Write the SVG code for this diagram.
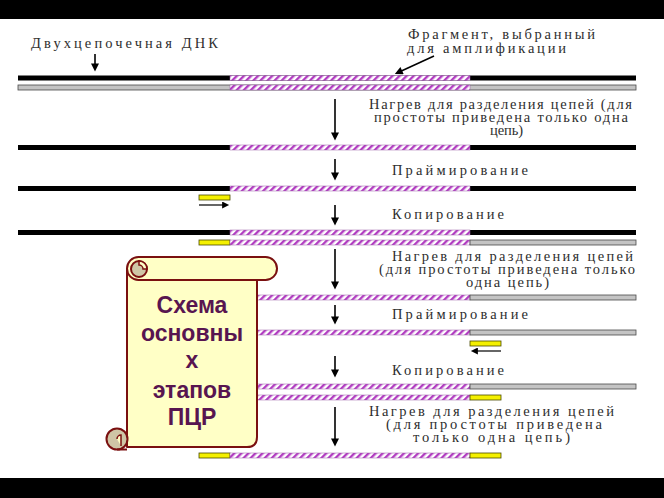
<svg xmlns="http://www.w3.org/2000/svg" width="664" height="498" viewBox="0 0 664 498">
<defs>
<style>
.t{font-family:"Liberation Serif","Times New Roman",serif;font-size:14.5px;fill:#2e2e2e;}
.s{font-family:"Liberation Sans",Arial,sans-serif;font-size:23px;font-weight:bold;fill:#581550;text-anchor:middle;}
.blk{fill:#000;}
.gry{fill:#c4c4c4;stroke:#4a4a4a;stroke-width:0.8;}
.yel{fill:#f4f000;stroke:#4a4a00;stroke-width:0.8;}
.hat{fill:url(#hatch);stroke:#9a60a8;stroke-width:0.5;}
.arr{stroke:#000;stroke-width:1.6;fill:none;marker-end:url(#ah);}
.arrs{stroke:#000;stroke-width:1.2;fill:none;marker-end:url(#ahs);}
.scr{fill:#ffffc6;stroke:#7a1010;stroke-width:2;stroke-linejoin:round;}
.curl{fill:#cfc6a6;stroke:#7a1010;stroke-width:2;}
</style>
<pattern id="hatch" width="5" height="5" patternUnits="userSpaceOnUse" patternTransform="rotate(45)">
<rect width="5" height="5" fill="#fff"/>
<rect width="2.4" height="5" fill="#b23cc2"/>
</pattern>
<marker id="ah" viewBox="0 0 10 10" refX="7" refY="5" markerWidth="9" markerHeight="8" markerUnits="userSpaceOnUse" orient="auto">
<path d="M0,0 L10,5 L0,10 Z" fill="#000"/>
</marker>
<marker id="ahs" viewBox="0 0 10 10" refX="7" refY="5" markerWidth="9" markerHeight="7" markerUnits="userSpaceOnUse" orient="auto">
<path d="M0,0 L10,5 L0,10 Z" fill="#000"/>
</marker>
</defs>
<rect width="664" height="498" fill="#fff"/>
<rect x="0" y="0" width="664" height="19" fill="#000"/>
<rect x="0" y="478" width="664" height="20" fill="#000"/>

<g id="labels">
<text class="t" x="31" y="48" textLength="187" lengthAdjust="spacing">Двухцепочечная ДНК</text>
<text class="t" x="408" y="39" textLength="187" lengthAdjust="spacing">Фрагмент, выбранный</text>
<text class="t" x="407" y="53" textLength="159" lengthAdjust="spacing">для амплификации</text>
<text class="t" x="369" y="109" textLength="263" lengthAdjust="spacing">Нагрев для разделения цепей (для</text>
<text class="t" x="374" y="122" textLength="254" lengthAdjust="spacing">простоты приведена только одна</text>
<text class="t" x="490" y="135" textLength="33" lengthAdjust="spacing">цепь)</text>
<text class="t" x="392" y="175" textLength="136" lengthAdjust="spacing">Праймирование</text>
<text class="t" x="392" y="219" textLength="112" lengthAdjust="spacing">Копирование</text>
<text class="t" x="392" y="261" textLength="241" lengthAdjust="spacing">Нагрев для разделения цепей</text>
<text class="t" x="379" y="274" textLength="256" lengthAdjust="spacing">(для простоты приведена только</text>
<text class="t" x="466" y="287" textLength="83" lengthAdjust="spacing">одна цепь)</text>
<text class="t" x="392" y="319" textLength="136" lengthAdjust="spacing">Праймирование</text>
<text class="t" x="392" y="375" textLength="112" lengthAdjust="spacing">Копирование</text>
<text class="t" x="369" y="416" textLength="245" lengthAdjust="spacing">Нагрев для разделения цепей</text>
<text class="t" x="386" y="429" textLength="216" lengthAdjust="spacing">(для простоты приведена</text>
<text class="t" x="413" y="442" textLength="157" lengthAdjust="spacing">только одна цепь)</text>
</g>

<g id="strand1">
<rect class="blk" x="18" y="75.5" width="618" height="5"/>
<rect class="hat" x="230" y="75.5" width="240" height="5"/>
</g>
<g id="strand2">
<rect class="gry" x="18" y="85" width="618" height="5"/>
<rect class="hat" x="230" y="85" width="240" height="5"/>
</g>
<g id="strand3">
<rect class="blk" x="18" y="145" width="618" height="5"/>
<rect class="hat" x="230" y="145" width="240" height="5"/>
</g>
<g id="strand4">
<rect class="blk" x="18" y="186" width="618" height="5"/>
<rect class="hat" x="230" y="186" width="240" height="5"/>
</g>
<g id="primer1">
<rect class="yel" x="199" y="195" width="31" height="5"/>
</g>
<g id="strand5">
<rect class="blk" x="18" y="230" width="618" height="5"/>
<rect class="hat" x="230" y="230" width="240" height="5"/>
</g>
<g id="strand6">
<rect class="yel" x="199" y="240" width="31" height="5"/>
<rect class="hat" x="230" y="240" width="240" height="5"/>
<rect class="gry" x="470" y="240" width="166" height="5"/>
</g>
<g id="strand7">
<rect class="yel" x="199" y="295" width="31" height="5"/>
<rect class="hat" x="230" y="295" width="240" height="5"/>
<rect class="gry" x="470" y="295" width="166" height="5"/>
</g>
<g id="strand8">
<rect class="yel" x="199" y="330" width="31" height="5"/>
<rect class="hat" x="230" y="330" width="240" height="5"/>
<rect class="gry" x="470" y="330" width="166" height="5"/>
</g>
<g id="primer2">
<rect class="yel" x="470" y="341" width="31" height="5"/>
</g>
<g id="strand9">
<rect class="yel" x="199" y="384" width="31" height="5"/>
<rect class="hat" x="230" y="384" width="240" height="5"/>
<rect class="gry" x="470" y="384" width="166" height="5"/>
</g>
<g id="strand10">
<rect class="yel" x="199" y="395" width="31" height="5"/>
<rect class="hat" x="230" y="395" width="240" height="5"/>
<rect class="yel" x="470" y="395" width="31" height="5"/>
</g>
<g id="strand11">
<rect class="yel" x="199" y="453" width="31" height="5"/>
<rect class="hat" x="230" y="453" width="240" height="5"/>
<rect class="yel" x="470" y="453" width="31" height="5"/>
</g>

<g id="connectors">
<line class="arr" x1="95" y1="54" x2="95" y2="69"/>
<line class="arr" x1="434" y1="56" x2="397" y2="73"/>
<line class="arr" x1="335" y1="99" x2="335" y2="138"/>
<line class="arr" x1="335" y1="159" x2="335" y2="178"/>
<line class="arrs" x1="199" y1="205" x2="227" y2="205"/>
<line class="arr" x1="335" y1="205" x2="335" y2="223"/>
<line class="arr" x1="335" y1="249" x2="335" y2="287"/>
<line class="arr" x1="335" y1="305" x2="335" y2="322"/>
<line class="arrs" x1="501" y1="351" x2="473" y2="351"/>
<line class="arr" x1="335" y1="356" x2="335" y2="375"/>
<line class="arr" x1="335" y1="407" x2="335" y2="444"/>
</g>

<g id="scroll">
<path class="scr" d="M127 270 V447 H247 Q257 447 257 437 V270 Z"/>
<rect class="scr" x="127" y="257" width="150" height="23" rx="11.5"/>
<circle class="curl" cx="139" cy="269" r="8"/>
<path d="M139 261 A8 8 0 0 1 147 269 L143 269 A4 4 0 0 0 139 265 Z" fill="#ffffc6" stroke="#7a1010" stroke-width="1.5"/>
<circle class="curl" cx="117" cy="439" r="10.5"/>
<path d="M117 439 A4 4 0 0 1 121 435 L121 446" fill="#ffffc6" stroke="#7a1010" stroke-width="1.5"/>
<path d="M117 449.5 H127" stroke="#7a1010" stroke-width="2"/>
<text class="s" x="192" y="313">Схема</text>
<text class="s" x="192" y="341">основны</text>
<text class="s" x="192" y="368">х</text>
<text class="s" x="192" y="398">этапов</text>
<text class="s" x="192" y="425">ПЦР</text>
</g>
</svg>
